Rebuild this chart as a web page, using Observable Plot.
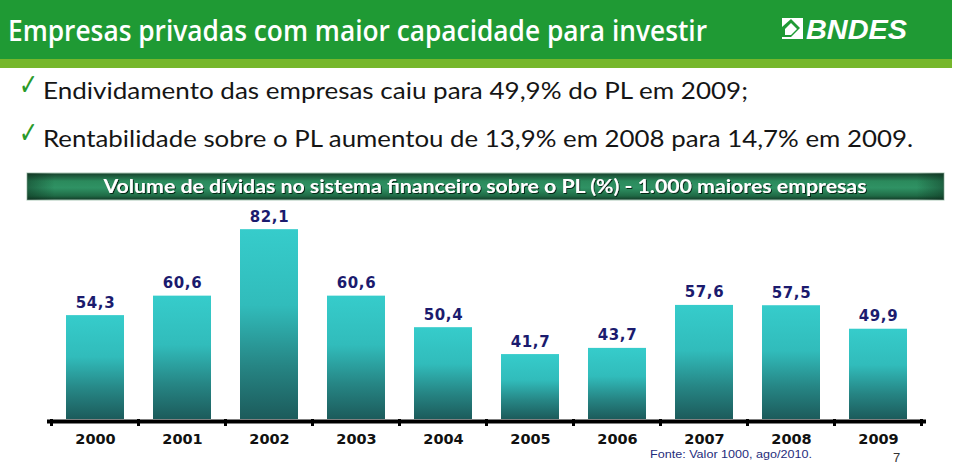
<!DOCTYPE html>
<html>
<head>
<meta charset="utf-8">
<script src="https://cdn.jsdelivr.net/npm/d3@7"></script>
<script src="https://cdn.jsdelivr.net/npm/@observablehq/plot@0.6"></script>
<style>
  html, body { margin: 0; padding: 0; background: #fff; }
  #slide { position: relative; width: 960px; height: 464px; overflow: hidden; background: #fff; }
  #bg { position: absolute; left: 0; top: 0; }
  #chart { position: absolute; left: 0; top: 200px; }
</style>
</head>
<body>
<div id="slide">
<svg id="bg" width="960" height="464" xmlns="http://www.w3.org/2000/svg">
  <defs>
    <linearGradient id="bannerGrad" x1="0" y1="0" x2="0" y2="1">
      <stop offset="0" stop-color="#163f2a"/>
      <stop offset="0.3" stop-color="#2b8a5c"/>
      <stop offset="0.55" stop-color="#2f9264"/>
      <stop offset="0.85" stop-color="#1f6a45"/>
      <stop offset="1" stop-color="#123826"/>
    </linearGradient>
    <linearGradient id="bannerEdge" x1="0" y1="0" x2="1" y2="0">
      <stop offset="0" stop-color="#0a2a1a" stop-opacity="0.45"/>
      <stop offset="0.03" stop-color="#0a2a1a" stop-opacity="0"/>
      <stop offset="0.97" stop-color="#0a2a1a" stop-opacity="0"/>
      <stop offset="1" stop-color="#0a2a1a" stop-opacity="0.45"/>
    </linearGradient>
    <filter id="shadow" x="-5%" y="-30%" width="110%" height="160%">
      <feDropShadow dx="1" dy="1" stdDeviation="0.6" flood-color="#061a10" flood-opacity="0.9"/>
    </filter>
  </defs>
  <rect x="0" y="0" width="952" height="59" fill="#1f9a34"/>
  <rect x="0" y="59" width="952" height="9" fill="#76b72b"/>
  <text x="8" y="41" font-family="Open Sans" font-weight="600" font-size="28" fill="#fff" textLength="699" lengthAdjust="spacingAndGlyphs">Empresas privadas com maior capacidade para investir</text>
  <g>
    <rect x="782" y="18" width="21" height="21" fill="#fff"/>
    <polygon points="782,27 791,19 800,28 791,37 782,37" fill="#1f9a34"/>
    <polygon points="785,29 791,23 797,29 791,35 785,35" fill="#fff"/>
  </g>
  <text x="806" y="39" font-family="Liberation Sans" font-weight="bold" font-style="italic" font-size="27" fill="#fff" textLength="101" lengthAdjust="spacingAndGlyphs">BNDES</text>

  <text x="19" y="95" font-family="DejaVu Sans" font-size="30" fill="#2a9a2a" textLength="19" lengthAdjust="spacingAndGlyphs">✓</text>
  <text x="43" y="99" font-family="Lato" font-size="23.5" fill="#151515" textLength="705" lengthAdjust="spacingAndGlyphs">Endividamento das empresas caiu para 49,9% do PL em 2009;</text>
  <text x="19" y="143" font-family="DejaVu Sans" font-size="30" fill="#2a9a2a" textLength="19" lengthAdjust="spacingAndGlyphs">✓</text>
  <text x="43" y="147" font-family="Lato" font-size="23.5" fill="#151515" textLength="870" lengthAdjust="spacingAndGlyphs">Rentabilidade sobre o PL aumentou de 13,9% em 2008 para 14,7% em 2009.</text>

  <rect x="27" y="173" width="917" height="27" fill="url(#bannerGrad)" stroke="#a9c7b6" stroke-width="1"/>
  <rect x="27" y="173" width="917" height="27" fill="url(#bannerEdge)"/>
  <text x="485" y="193" text-anchor="middle" font-family="Lato" font-weight="bold" font-size="19" fill="#fff" filter="url(#shadow)" textLength="763" lengthAdjust="spacingAndGlyphs">Volume de dívidas no sistema financeiro sobre o PL (%) - 1.000 maiores empresas</text>

  <text x="650" y="458" font-family="Liberation Sans" font-size="11" fill="#1f2d7c" textLength="162" lengthAdjust="spacingAndGlyphs">Fonte: Valor 1000, ago/2010.</text>
  <text x="893" y="462" font-family="Liberation Sans" font-size="13" fill="#333">7</text>
</svg>
<div id="chart"></div>
</div>
<script>
// ---- data ----
const years = ["2000", "2001", "2002", "2003", "2004", "2005", "2006", "2007", "2008", "2009"];
const values = [54.3, 60.6, 82.1, 60.6, 50.4, 41.7, 43.7, 57.6, 57.5, 49.9];
const yMin = 20.7;   // bars start from this value in the original chart
const yMax = 88.3;

const data = years.map((year, i) => ({year, value: values[i]}));
const fmt = v => v.toFixed(1).replace(".", ",");

function boundaryTicks(index, scales, values, dimensions) {
  const x = scales.x, y = scales.y;
  const bw = x.bandwidth ? x.bandwidth() : 0;
  const step = x.step ? x.step() : (dimensions.width - dimensions.marginLeft - dimensions.marginRight) / years.length;
  const edges = years.map(d => x(d) + bw / 2 - step / 2);
  edges.push(x(years[years.length - 1]) + bw / 2 + step / 2);
  const y0 = y(yMin);
  const g = d3.create("svg:g");
  g.selectAll("line").data(edges).join("line")
    .attr("x1", d => d).attr("x2", d => d)
    .attr("y1", y0).attr("y2", y0 + 7)
    .attr("stroke", "#000").attr("stroke-width", 3);
  return g.node();
}

const chart = Plot.plot({
  width: 960,
  height: 264,
  marginLeft: 47,
  marginRight: 34,
  marginTop: 10,
  marginBottom: 45,
  style: {background: "transparent", fontFamily: "DejaVu Sans", fontSize: "14.5px", fontWeight: "bold", color: "#111", overflow: "visible"},
  x: {domain: years, paddingInner: 0.33, paddingOuter: 0.165, tickSize: 0, tickPadding: 14, label: null},
  y: {domain: [yMin, yMax], axis: null},
  marks: [
    Plot.barY(data, {x: "year", y1: yMin, y2: "value", fill: "url(#barGrad)"}),
    Plot.ruleY([yMin], {stroke: "#000", strokeWidth: 4, dy: 2}),
    boundaryTicks,
    Plot.text(data, {x: "year", y: "value", text: d => fmt(d.value), dy: -8, lineAnchor: "bottom",
      fontSize: 15, fontWeight: "bold", fill: "#1b1b6e"})
  ]
});

const defs = d3.select(chart).insert("defs", ":first-child");
const grad = defs.append("linearGradient").attr("id", "barGrad")
  .attr("x1", 0).attr("y1", 0).attr("x2", 0).attr("y2", 1);
[[0, "#36cccb"], [0.4, "#31bcbb"], [0.72, "#268584"], [1, "#1c5b5b"]].forEach(([o, c]) =>
  grad.append("stop").attr("offset", o).attr("stop-color", c));
d3.select(chart).selectAll("g[aria-label='text'] text").style("letter-spacing", "0.6px");

document.getElementById("chart").appendChild(chart);
</script>
</body>
</html>
